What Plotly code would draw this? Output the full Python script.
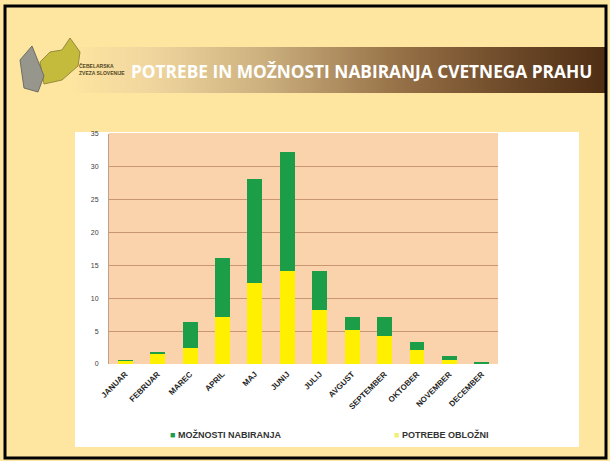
import plotly.graph_objects as go

# Monthly pollen data (stacked: needs at the bottom, collection potential on top)
months = ["JANUAR", "FEBRUAR", "MAREC", "APRIL", "MAJ", "JUNIJ", "JULIJ",
          "AVGUST", "SEPTEMBER", "OKTOBER", "NOVEMBER", "DECEMBER"]
potrebe_oblozni = [0.5, 1.5, 2.4, 7.2, 12.3, 14.2, 8.2, 5.1, 4.2, 2.1, 0.6, 0.1]
moznosti_nabiranja = [0.1, 0.4, 4.0, 9.0, 15.8, 18.0, 6.0, 2.1, 2.9, 1.3, 0.6, 0.1]
y_ticks = [0, 5, 10, 15, 20, 25, 30, 35]

W, H = 610, 461
SLIDE_BG = "rgb(254,229,160)"
GREEN = "rgb(28,158,72)"
YELLOW = "rgb(255,240,0)"


def px(x):
    return x / W


def py(y):
    return 1 - y / H


shapes = []

# Title band: horizontal gradient from slide colour to dark brown
stops = [(70, (254, 229, 160)), (150, (240, 214, 158)), (260, (205, 178, 128)),
         (400, (150, 112, 70)), (520, (105, 70, 38)), (606, (78, 46, 20))]


def band_color(x):
    for (x0, c0), (x1, c1) in zip(stops[:-1], stops[1:]):
        if x0 <= x <= x1:
            t = (x - x0) / (x1 - x0)
            return "rgb(%d,%d,%d)" % tuple(round(a + (b - a) * t) for a, b in zip(c0, c1))
    return "rgb(%d,%d,%d)" % stops[-1][1]


step = 2
for x in range(70, 606, step):
    shapes.append(dict(type="rect", xref="paper", yref="paper",
                       x0=px(x), x1=px(x + step + 0.5), y0=py(93), y1=py(47),
                       fillcolor=band_color(x + step / 2), line=dict(width=0),
                       layer="below"))

# Logo: rough Slovenia silhouette and bee-keeper figure
shapes.append(dict(type="path", xref="paper", yref="paper",
                   path="M %f %f L %f %f L %f %f L %f %f L %f %f L %f %f L %f %f L %f %f Z" % (
                       px(40), py(62), px(50), py(52), px(62), py(50), px(70), py(38),
                       px(80), py(52), px(78), py(66), px(62), py(80), px(44), py(84)),
                   fillcolor="rgb(196,186,60)", line=dict(color="rgb(150,140,60)", width=1),
                   layer="below"))
shapes.append(dict(type="path", xref="paper", yref="paper",
                   path="M %f %f L %f %f L %f %f L %f %f L %f %f Z" % (
                       px(20), py(60), px(32), py(46), px(44), py(76), px(38), py(92), px(24), py(88)),
                   fillcolor="rgb(150,150,140)", line=dict(color="rgb(110,110,100)", width=1),
                   layer="below"))

# White chart area and peach plot background
shapes.append(dict(type="rect", xref="paper", yref="paper",
                   x0=px(75), x1=px(579), y0=py(447), y1=py(132),
                   fillcolor="white", line=dict(width=0), layer="below"))
shapes.append(dict(type="rect", xref="paper", yref="paper",
                   x0=px(109), x1=px(498), y0=py(364), y1=py(133),
                   fillcolor="rgb(250,210,172)", line=dict(width=0), layer="below"))

# Slide frame
shapes.append(dict(type="rect", xref="paper", yref="paper",
                   x0=px(5), x1=px(606), y0=py(458), y1=py(6),
                   line=dict(color="black", width=3), fillcolor="rgba(0,0,0,0)",
                   layer="above"))

fig = go.Figure()
fig.add_trace(go.Bar(x=months, y=potrebe_oblozni, name="POTREBE OBLOŽNI",
                     marker=dict(color=YELLOW, line=dict(width=0))))
fig.add_trace(go.Bar(x=months, y=moznosti_nabiranja, name="MOŽNOSTI NABIRANJA",
                     marker=dict(color=GREEN, line=dict(width=0))))

annotations = [
    dict(text="<b>POTREBE IN MOŽNOSTI NABIRANJA CVETNEGA PRAHU</b>",
         xref="paper", yref="paper", x=px(129), y=py(71), xanchor="left", yanchor="middle",
         showarrow=False, font=dict(family="Open Sans", size=17.3, color="white")),
    dict(text="<b>ČEBELARSKA<br>ZVEZA SLOVENIJE</b>", xref="paper", yref="paper",
         x=px(77), y=py(69), xanchor="left", yanchor="middle", align="left",
         showarrow=False, font=dict(family="Liberation Sans", size=5, color="rgb(80,70,35)")),
    dict(text="<span style='color:%s'>■</span> <b>MOŽNOSTI NABIRANJA</b>" % GREEN,
         xref="paper", yref="paper", x=px(168), y=py(434), xanchor="left", yanchor="middle",
         showarrow=False, font=dict(family="Liberation Sans", size=9, color="rgb(50,50,50)")),
    dict(text="<span style='color:rgb(240,240,120)'>■</span> <b>POTREBE OBLOŽNI</b>",
         xref="paper", yref="paper", x=px(392), y=py(434), xanchor="left", yanchor="middle",
         showarrow=False, font=dict(family="Liberation Sans", size=9, color="rgb(50,50,50)")),
]

fig.update_layout(
    width=W, height=H, margin=dict(l=0, r=0, t=0, b=0),
    paper_bgcolor=SLIDE_BG, plot_bgcolor="rgba(0,0,0,0)",
    barmode="stack", bargap=0.54, showlegend=False,
    shapes=shapes, annotations=annotations,
    xaxis=dict(domain=[px(109), px(498)], anchor="y", tickangle=-45, automargin=False,
               tickfont=dict(family="Liberation Sans", size=8, color="rgb(30,30,30)", weight="bold"),
               showline=False, ticks="", showgrid=False, ticklabelstandoff=3),
    yaxis=dict(domain=[py(364), py(134)], anchor="x", range=[0, 35], tickvals=y_ticks,
               automargin=False,
               tickfont=dict(family="Liberation Sans", size=7, color="rgb(60,60,60)"),
               showgrid=True, gridcolor="rgb(200,150,115)", gridwidth=1,
               showline=True, linecolor="rgb(190,160,140)", linewidth=1,
               zeroline=False, ticks="", ticklabelstandoff=8),
)

fig.write_html("out.html")
